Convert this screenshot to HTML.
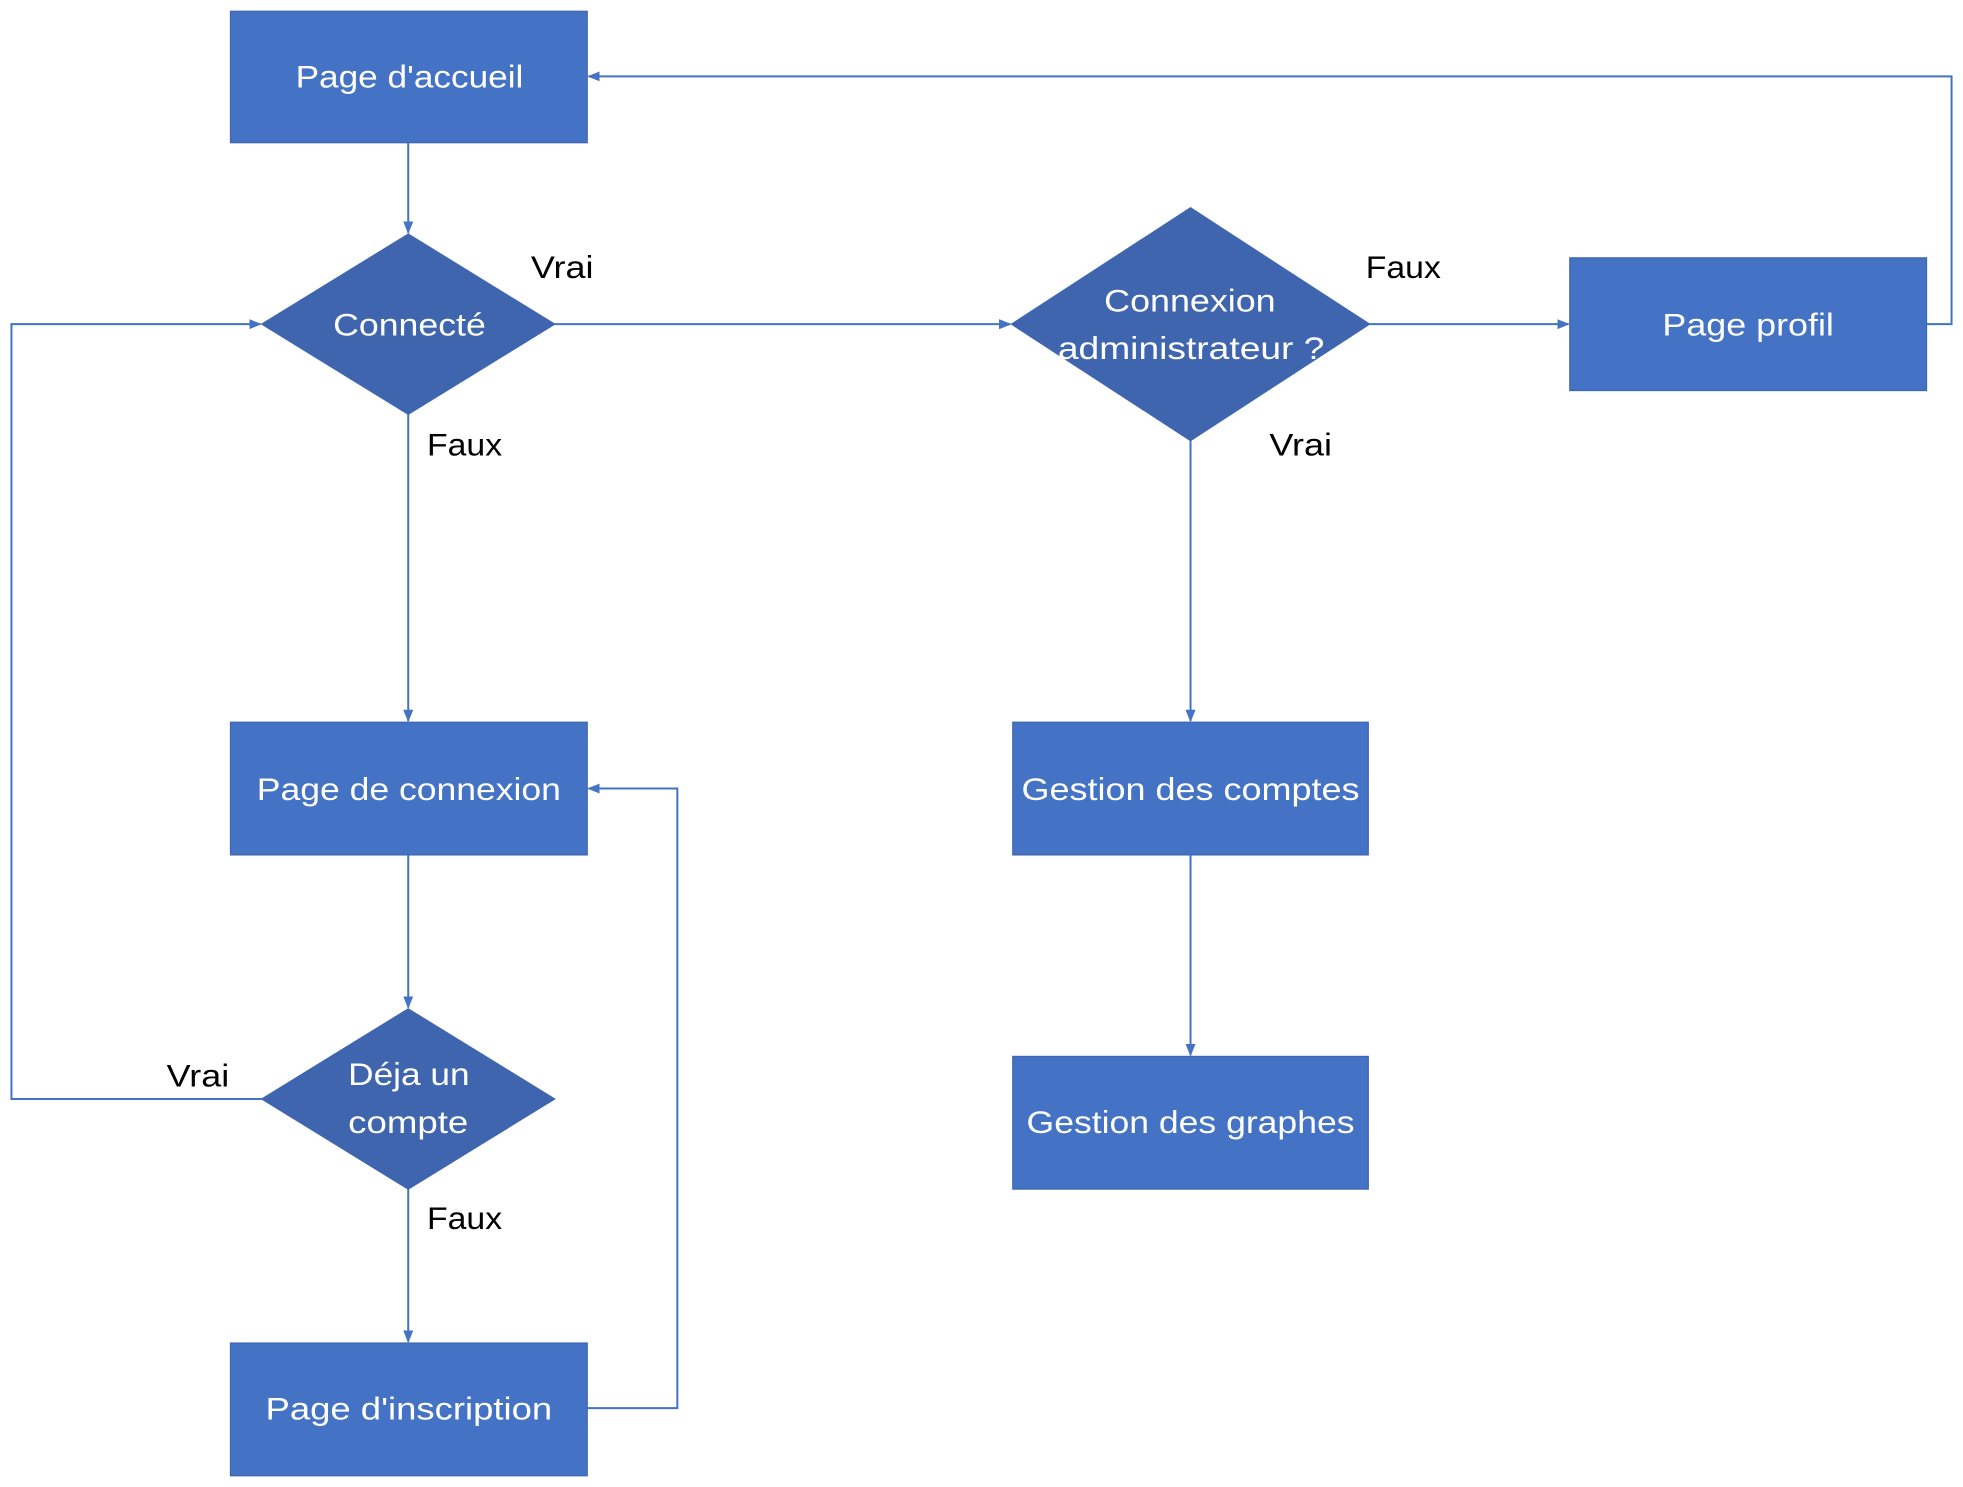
<!DOCTYPE html>
<html><head><meta charset="utf-8"><style>
html,body{margin:0;padding:0;background:#fff;}
svg{display:block;}
text{font-family:"Liberation Sans",sans-serif;}
.w{fill:#fff;font-size:25px;}
.b{fill:#000;font-size:25px;}
.l{stroke:#4472C4;stroke-width:1.6;fill:none;marker-end:url(#a);}
</style></head><body>
<svg width="1963" height="1487" viewBox="0 0 1568 1188" xmlns="http://www.w3.org/2000/svg">
<defs><marker id="a" markerWidth="10" markerHeight="10" refX="9" refY="5" orient="auto" markerUnits="userSpaceOnUse"><path d="M0,1 L10,5 L0,9 z" fill="#4472C4"/></marker></defs>
<rect width="1568" height="1188" fill="#fff"/>
<!-- connectors -->
<path class="l" d="M326,114 V186"/>
<path class="l" d="M443,259 H807"/>
<path class="l" d="M1094,259 H1253"/>
<path class="l" d="M1539,259 H1559 V61 H470"/>
<path class="l" d="M326,331 V576"/>
<path class="l" d="M951,352 V576"/>
<path class="l" d="M951,683 V843"/>
<path class="l" d="M326,683 V805"/>
<path class="l" d="M209,878 H9 V259 H208"/>
<path class="l" d="M326,950 V1072"/>
<path class="l" d="M469,1125 H541 V630 H470"/>
<!-- shapes -->
<g stroke="#3F66B0" stroke-width="1">
<rect x="184" y="9" width="285" height="105" fill="#4472C4"/>
<rect x="1254" y="206" width="285" height="106" fill="#4472C4"/>
<rect x="184" y="577" width="285" height="106" fill="#4472C4"/>
<rect x="184" y="1073" width="285" height="106" fill="#4472C4"/>
<rect x="809" y="577" width="284" height="106" fill="#4472C4"/>
<rect x="809" y="844" width="284" height="106" fill="#4472C4"/>
<polygon points="326,187 443,259 326,331 209,259" fill="#3F65AE"/>
<polygon points="951,166 1094,259 951,352 808,259" fill="#3F65AE"/>
<polygon points="326,806 443,878 326,950 209,878" fill="#3F65AE"/>
</g>
<!-- texts -->
<text class="w" x="236" y="70" textLength="182" lengthAdjust="spacingAndGlyphs">Page d'accueil</text>
<text class="w" x="266" y="268" textLength="122" lengthAdjust="spacingAndGlyphs">Connecté</text>
<text class="w" x="882" y="249" textLength="137" lengthAdjust="spacingAndGlyphs">Connexion</text>
<text class="w" x="845" y="287" textLength="213" lengthAdjust="spacingAndGlyphs">administrateur ?</text>
<text class="w" x="1328" y="268" textLength="137" lengthAdjust="spacingAndGlyphs">Page profil</text>
<text class="w" x="205" y="639" textLength="243" lengthAdjust="spacingAndGlyphs">Page de connexion</text>
<text class="w" x="278" y="867" textLength="97" lengthAdjust="spacingAndGlyphs">Déja un</text>
<text class="w" x="278" y="905" textLength="96" lengthAdjust="spacingAndGlyphs">compte</text>
<text class="w" x="212" y="1134" textLength="229" lengthAdjust="spacingAndGlyphs">Page d'inscription</text>
<text class="w" x="816" y="639" textLength="270" lengthAdjust="spacingAndGlyphs">Gestion des comptes</text>
<text class="w" x="820" y="905" textLength="262" lengthAdjust="spacingAndGlyphs">Gestion des graphes</text>
<text class="b" x="424" y="222" textLength="50" lengthAdjust="spacingAndGlyphs">Vrai</text>
<text class="b" x="341" y="364" textLength="60" lengthAdjust="spacingAndGlyphs">Faux</text>
<text class="b" x="1091" y="222" textLength="60" lengthAdjust="spacingAndGlyphs">Faux</text>
<text class="b" x="1014" y="364" textLength="50" lengthAdjust="spacingAndGlyphs">Vrai</text>
<text class="b" x="133" y="868" textLength="50" lengthAdjust="spacingAndGlyphs">Vrai</text>
<text class="b" x="341" y="982" textLength="60" lengthAdjust="spacingAndGlyphs">Faux</text>
</svg>
</body></html>
